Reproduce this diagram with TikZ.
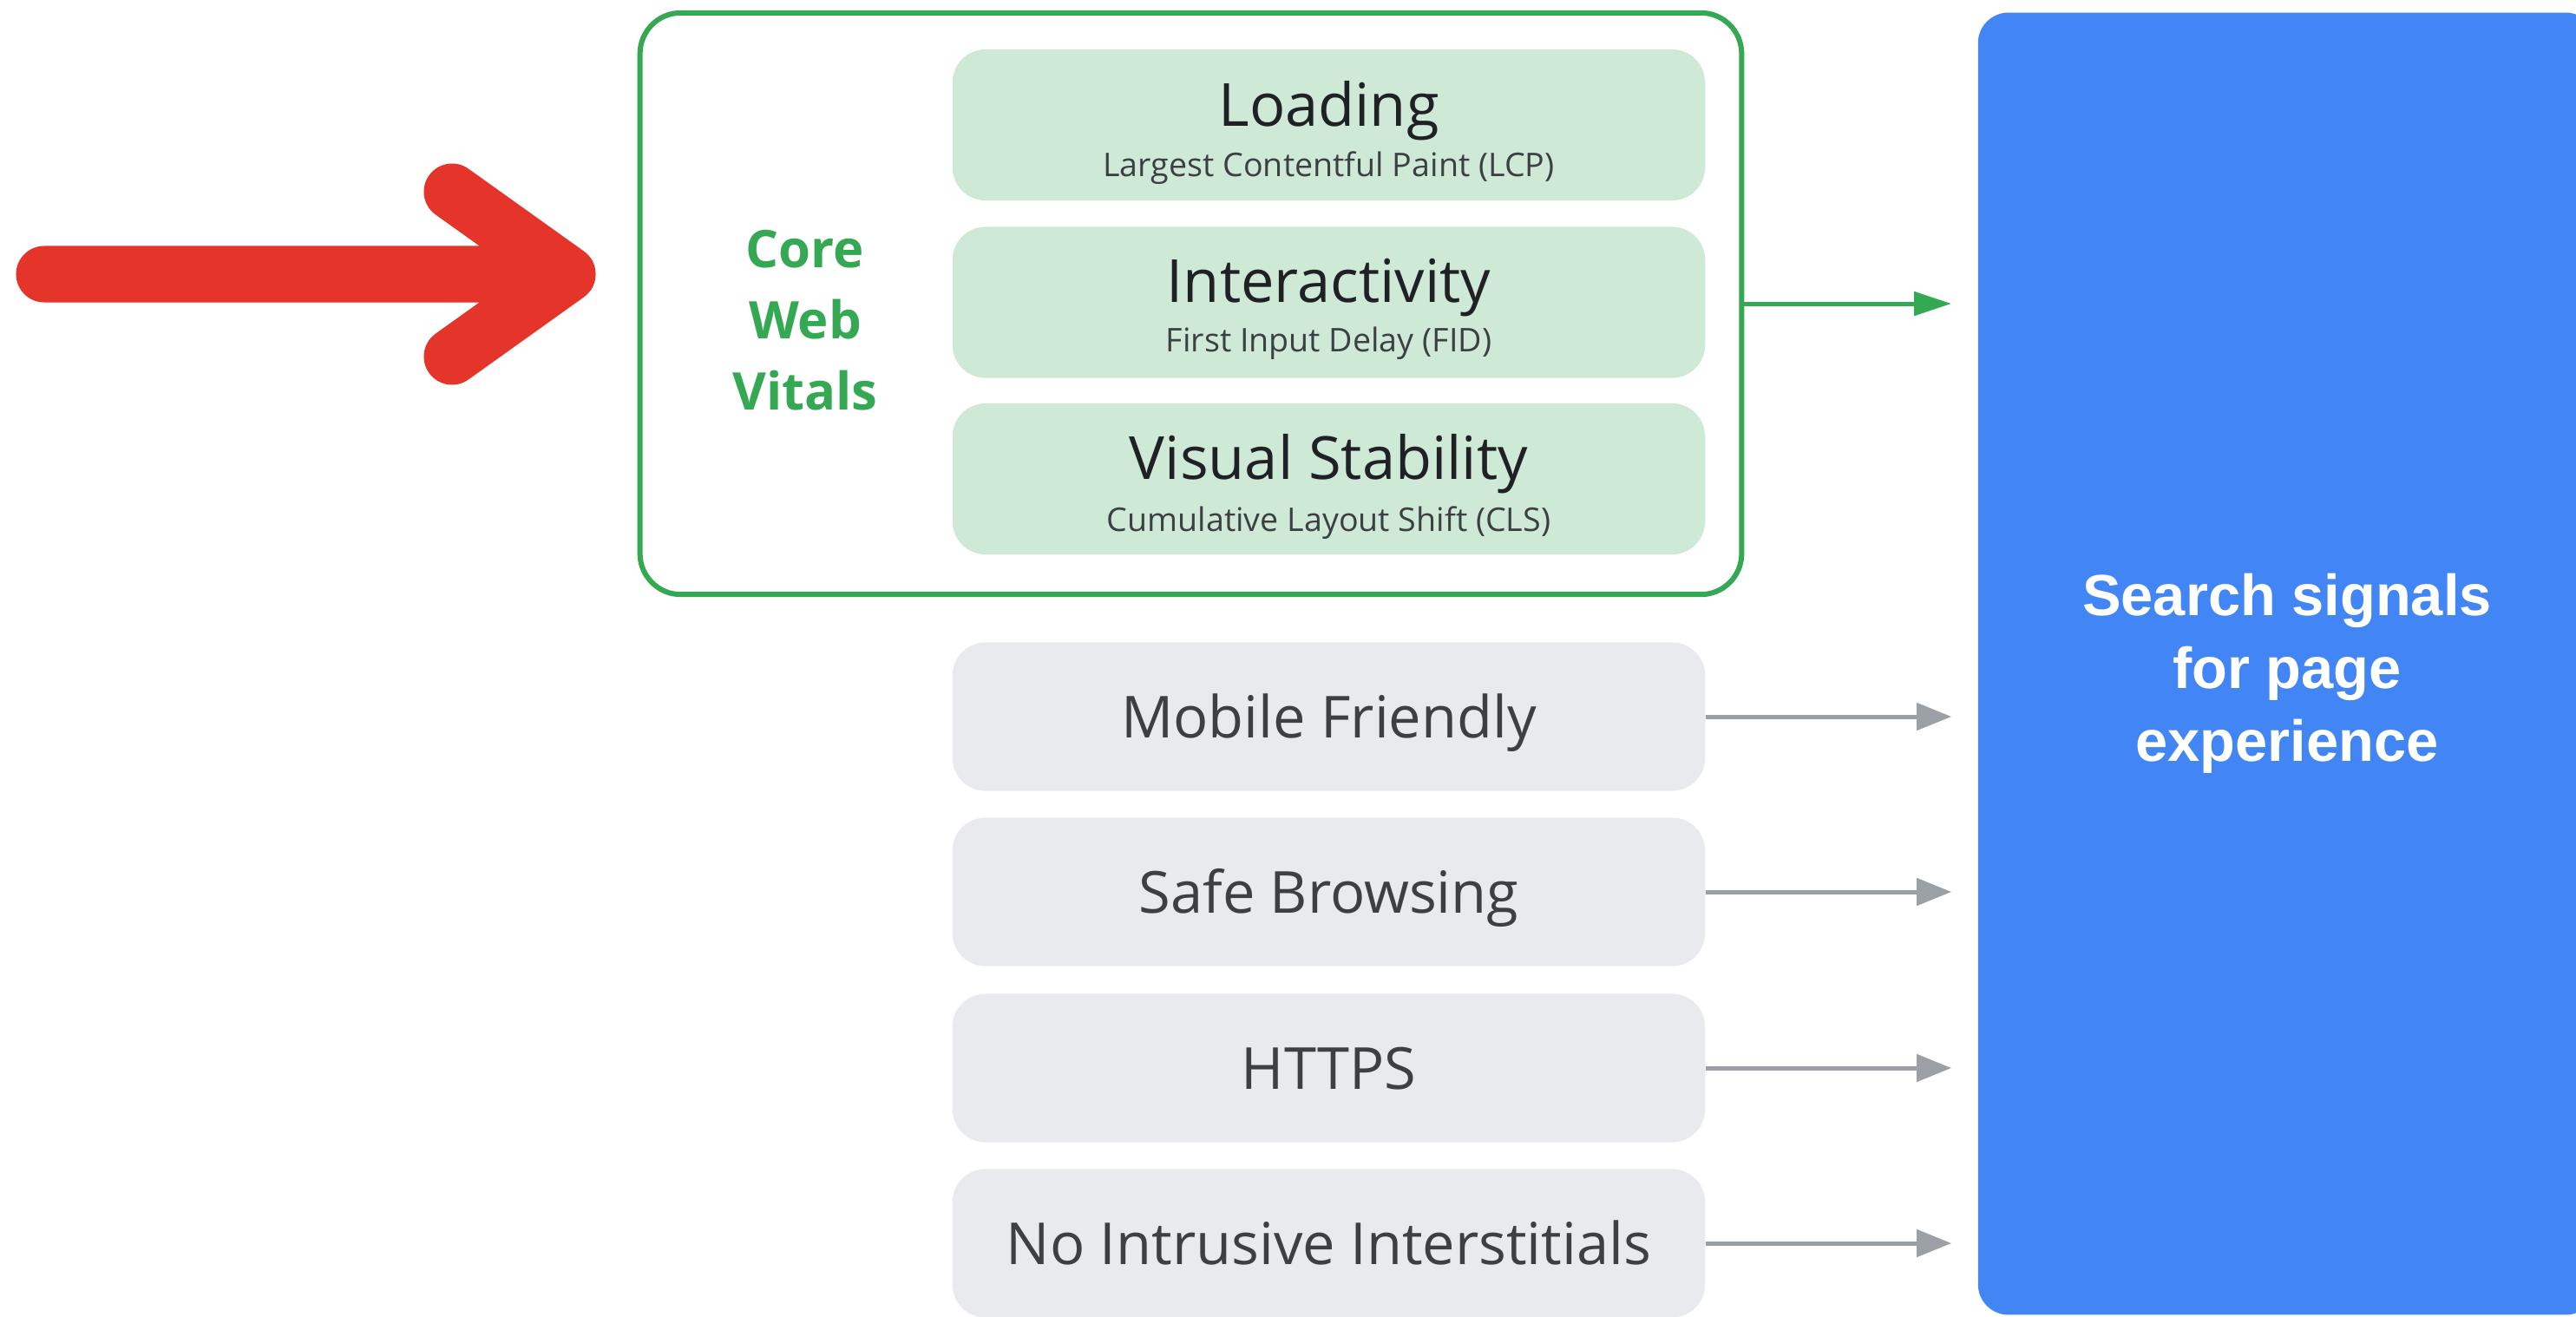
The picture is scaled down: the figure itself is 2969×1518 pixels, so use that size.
\documentclass[tikz,border=0pt]{standalone}
\usepackage{fontspec}
\setmainfont{Open Sans}
\newfontfamily\signalfont{Liberation Sans}
\usetikzlibrary{arrows.meta}
\definecolor{arrowred}{RGB}{229,52,41}
\definecolor{vitalgreen}{RGB}{52,168,83}
\definecolor{metricfill}{RGB}{206,234,214}
\definecolor{signalgray}{RGB}{232,234,237}
\definecolor{pointergray}{RGB}{154,160,166}
\definecolor{searchblue}{RGB}{66,133,244}
\definecolor{titleink}{RGB}{32,33,36}
\definecolor{subink}{RGB}{60,64,67}
\tikzset{
	vitalsframe/.style={draw=vitalgreen, line width=0.06cm, rounded corners=0.47cm, minimum width=12.69cm, minimum height=6.70cm, inner sep=0pt},
	vitalslabel/.style={text=vitalgreen, align=center, inner sep=0pt, font=\bfseries\fontsize{17}{23.3}\selectfont},
	metricbox/.style={fill=metricfill, rounded corners=0.38cm, minimum width=8.67cm, minimum height=1.74cm, inner sep=0pt},
	metrictitle/.style={anchor=base, text=titleink, inner sep=0pt, font=\fontsize{19.5}{23}\selectfont},
	metricsub/.style={anchor=base, text=subink, inner sep=0pt, font=\fontsize{10.7}{13}\selectfont},
	signalbox/.style={fill=signalgray, rounded corners=0.38cm, minimum width=8.67cm, minimum height=1.71cm, inner sep=0pt, text height=0.6cm, text depth=0.12cm, text=subink, font=\fontsize{19}{23}\selectfont},
	searchbox/.style={fill=searchblue, rounded corners=0.35cm, minimum width=7.12cm, minimum height=15cm, inner sep=0pt},
	searchtext/.style={text=white, align=center, inner sep=0pt, font=\signalfont\bfseries\fontsize{19}{23.9}\selectfont},
	greenarrow/.style={draw=vitalgreen, line width=0.05cm, -{Triangle[length=0.43cm,width=0.27cm]}, shorten >=0.3cm},
	grayarrow/.style={draw=pointergray, line width=0.05cm, -{Triangle[length=0.4cm,width=0.31cm]}, shorten >=0.3cm}
}

\begin{document}
\begin{tikzpicture}[x=0.01cm, y=-0.01cm]
				\useasboundingbox (0,0) rectangle (2969,1518);
				\clip (0,0) rectangle (2969,1518);
				
				\draw[arrowred, line width=0.65cm, line cap=round, line join=round] (51,316) -- (654,316) (521,221) -- (654,316) -- (521,411);
				
				\node[vitalsframe] (vitals) at (1372.5,350) {};
				\node[vitalslabel] (vitalsname) at (928,369) {Core\\Web\\Vitals};
				
				\node[metricbox] (loading) at (1531.5,144) {};
				\node[metrictitle] (loadingname) at ([yshift=-0.01cm]loading.center) {Loading};
				\node[metricsub] (lcp) at ([yshift=-0.59cm]loading.center) {Largest Contentful Paint (LCP)};
				
				\node[metricbox] (interact) at (1531.5,348.5) {};
				\node[metrictitle] (interactname) at (interact.center) {Interactivity};
				\node[metricsub] (fid) at ([yshift=-0.57cm]interact.center) {First Input Delay (FID)};
				
				\node[metricbox] (stability) at (1531.5,552) {};
				\node[metrictitle] (stabilityname) at (stability.center) {Visual Stability};
				\node[metricsub] (cls) at ([yshift=-0.6cm]stability.center) {Cumulative Layout Shift (CLS)};
				
				\node[signalbox] (mobile) at (1531.5,826) {Mobile Friendly};
				\node[signalbox] (browsing) at (1531.5,1028) {Safe Browsing};
				\node[signalbox] (https) at (1531.5,1231) {HTTPS};
				\node[signalbox] (interstitials) at (1531.5,1433) {No Intrusive Interstitials};
				
				\node[searchbox] (signals) at (2636,765) {};
				\node[searchtext] (signalsname) at (2636,776) {Search signals\\for page\\experience};
				
				\draw[greenarrow] (vitals.east) -- (vitals.east -| signals.west);
				\draw[grayarrow] (mobile.east) -- (mobile.east -| signals.west);
				\draw[grayarrow] (browsing.east) -- (browsing.east -| signals.west);
				\draw[grayarrow] (https.east) -- (https.east -| signals.west);
				\draw[grayarrow] (interstitials.east) -- (interstitials.east -| signals.west);
\end{tikzpicture}
\end{document}
